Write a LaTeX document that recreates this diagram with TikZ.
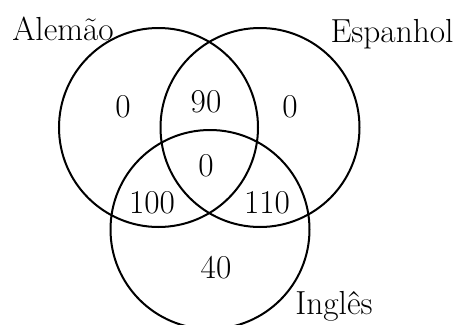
\documentclass[tikz,border=0pt]{standalone}
\begin{document}
\begin{tikzpicture}[x=0.75pt,y=-0.75pt,
  ring/.style={draw=black,line width=1.5pt,circle,minimum size=149.25pt,inner sep=0pt},
  lbl/.style={font=\fontsize{25}{29}\selectfont,inner sep=0pt}]
\useasboundingbox (0,0) rectangle (458,325);
\node[ring] (A) at (158.5,127.5) {};
\node[ring] (E) at (260,127.5) {};
\node[ring] (I) at (210,229.5) {};
\node[lbl] (tA) at (63,29) {Alemão};
\node[lbl] (tE) at (392,34) {Espanhol};
\node[lbl] (tI) at (334,306) {Inglês};
\node[lbl] (n1) at (123,107) {0};
\node[lbl] (n2) at (206,102) {90};
\node[lbl] (n3) at (290,107) {0};
\node[lbl] (n4) at (206,166) {0};
\node[lbl] (n5) at (152,203) {100};
\node[lbl] (n6) at (267,203) {110};
\node[lbl] (n7) at (216,268) {40};
\end{tikzpicture}
\end{document}
